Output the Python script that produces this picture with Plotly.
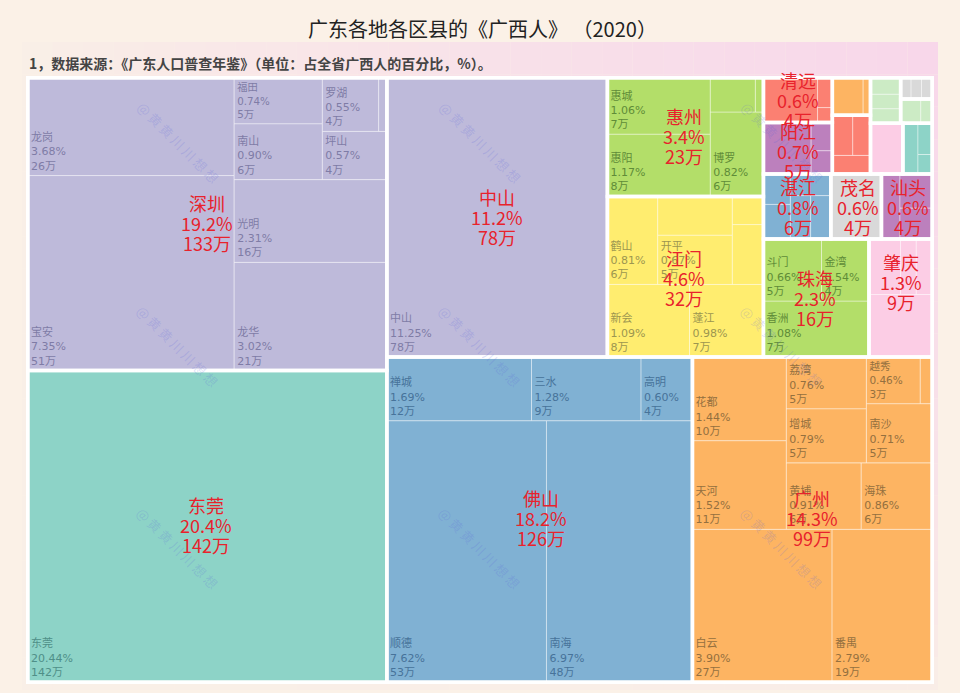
import plotly.graph_objects as go

# 各地级市：名称、占比(%)、人数(万)
city_names = ["深圳", "东莞", "中山", "佛山", "广州", "惠州", "江门", "清远", "阳江", "湛江", "茂名", "汕头", "珠海", "肇庆"]
city_pct = ["19.2%", "20.4%", "11.2%", "18.2%", "14.3%", "3.4%", "4.6%", "0.6%", "0.7%", "0.8%", "0.6%", "0.6%", "2.3%", "1.3%"]
city_wan = ["133万", "142万", "78万", "126万", "99万", "23万", "32万", "4万", "5万", "6万", "4万", "4万", "16万", "9万"]

# 各区县（名称为空的是图上没有标注的小块，数值为估读）
sz_names = ["龙岗", "宝安", "福田", "南山", "罗湖", "", "坪山", "光明", "龙华"]
sz_vals = [3.68, 7.35, 0.74, 0.90, 0.55, 0.08, 0.57, 2.31, 3.02]
sz_wan = [26, 51, 5, 6, 4, 0, 4, 16, 21]
dg_names = ["东莞"]
dg_vals = [20.44]
dg_wan = [142]
zs_names = ["中山"]
zs_vals = [11.25]
zs_wan = [78]
fs_names = ["禅城", "三水", "高明", "顺德", "南海"]
fs_vals = [1.69, 1.28, 0.60, 7.62, 6.97]
fs_wan = [12, 9, 4, 53, 48]
gz_names = ["花都", "天河", "荔湾", "增城", "越秀", "", "南沙", "黄埔", "海珠", "白云", "番禺"]
gz_vals = [1.44, 1.52, 0.76, 0.79, 0.46, 0.10, 0.71, 0.91, 0.86, 3.90, 2.79]
gz_wan = [10, 11, 5, 5, 3, 0, 5, 6, 6, 27, 19]
hz_names = ["惠城", "惠阳", "", "", "博罗"]
hz_vals = [1.06, 1.17, 0.28, 0.05, 0.82]
hz_wan = [7, 8, 0, 0, 6]
jm_names = ["鹤山", "", "开平", "", "", "新会", "蓬江"]
jm_vals = [0.81, 0.53, 0.67, 0.16, 0.34, 1.09, 0.98]
jm_wan = [6, 0, 5, 0, 0, 8, 7]
qy_vals = [0.44, 0.08, 0.04]
yj_vals = [0.45, 0.11, 0.09]
zj_vals = [0.15, 0.17, 0.16, 0.16, 0.16]
mm_vals = [0.6]
st_vals = [0.22, 0.20, 0.18]
zh_names = ["斗门", "金湾", "香洲"]
zh_vals = [0.66, 0.54, 1.08]
zh_wan = [5, 4, 7]
zq_vals = [0.32, 0.16, 0.16, 0.72]
orange_vals = [0.21, 0.05]
red_vals = [0.15, 0.13, 0.13]
green1_vals = [0.09, 0.08, 0.08]
gray_vals = [0.04, 0.04, 0.04]
green2_vals = [0.09, 0.05]
pink_vals = [0.30]
teal_vals = [0.14, 0.08, 0.05]

blank3 = ["", "", ""]

colors = dict(
    purple=("#bebada", "#7f7ca6"), teal=("#8dd3c7", "#4f8f88"), blue=("#80b1d3", "#47739a"),
    orange=("#fdb462", "#94703f"), green=("#b3de69", "#5f8c38"), yellow=("#ffed6f", "#9c9650"),
    red=("#fb8072", "#a05048"), violet=("#bc80bd", "#7a507a"), gray=("#d9d9d9", "#888888"),
    pink=("#fccde5", "#a08090"), mint=("#ccebc5", "#7f9f7a"),
)

# 每个区域：(名称, 数值, 万, 切分结构, 配色)，切分结构里的数字是下标
regions = {
    "深圳": (sz_names, sz_vals, sz_wan, ("h", [("v", [0, 1]), ("v", [("h", [("v", [2, 3]), ("v", [("h", [4, 5]), 6])]), ("v", [7, 8])])]), "purple"),
    "东莞": (dg_names, dg_vals, dg_wan, ("v", [0]), "teal"),
    "中山": (zs_names, zs_vals, zs_wan, ("v", [0]), "purple"),
    "佛山": (fs_names, fs_vals, fs_wan, ("v", [("h", [0, 1, 2]), ("h", [3, 4])]), "blue"),
    "广州": (gz_names, gz_vals, gz_wan, ("v", [("h", [("v", [0, 1]), ("v", [("h", [("v", [2, 3]), ("v", [("h", [4, 5]), 6])]), ("h", [7, 8])])]), ("h", [9, 10])]), "orange"),
    "惠州": (hz_names, hz_vals, hz_wan, ("h", [("v", [0, 1]), ("v", [("h", [2, 3]), 4])]), "green"),
    "江门": (jm_names, jm_vals, jm_wan, ("v", [("h", [0, ("v", [1, 2]), ("v", [3, 4])]), ("h", [5, 6])]), "yellow"),
    "清远": (blank3, qy_vals, None, ("h", [0, ("v", [1, 2])]), "red"),
    "阳江": (blank3, yj_vals, None, ("h", [0, ("v", [1, 2])]), "violet"),
    "湛江": ([""] * 5, zj_vals, None, ("h", [("v", [0, 1]), ("v", [2, ("h", [3, 4])])]), "blue"),
    "茂名": ([""], mm_vals, None, ("v", [0]), "gray"),
    "汕头": (blank3, st_vals, None, ("h", [0, ("v", [1, 2])]), "violet"),
    "珠海": (zh_names, zh_vals, zh_wan, ("v", [("h", [0, 1]), 2]), "green"),
    "肇庆": ([""] * 4, zq_vals, None, ("v", [("h", [0, 1, 2]), 3]), "pink"),
    "橙": (["", ""], orange_vals, None, ("h", [0, 1]), "orange"),
    "红": (blank3, red_vals, None, ("v", [("h", [0, 1]), 2]), "red"),
    "绿1": (blank3, green1_vals, None, ("v", [0, 1, 2]), "mint"),
    "灰": (blank3, gray_vals, None, ("h", [0, 1, 2]), "gray"),
    "绿2": (["", ""], green2_vals, None, ("h", [0, 1]), "mint"),
    "粉": ([""], pink_vals, None, ("v", [0]), "pink"),
    "青": (blank3, teal_vals, None, ("h", [0, ("v", [1, 2])]), "teal"),
}

# 城市之间的摆放结构
city_layout = ("h", [
    ("v", ["深圳", "东莞"]),
    ("v", [
        ("h", ["中山",
               ("v", ["惠州", "江门"]),
               ("v", [
                   ("v", [
                       ("h", [("v", ["清远", "阳江"]), ("v", ["橙", "红"]),
                              ("v", [("h", ["绿1", ("v", ["灰", "绿2"])]), ("h", ["粉", "青"])])]),
                       ("h", ["湛江", "茂名", "汕头"]),
                   ]),
                   ("h", ["珠海", "肇庆"]),
               ])]),
        ("h", ["佛山", "广州"]),
    ]),
])

blank = "rgba(0,0,0,0)"


def build(only_cities):
    ids, parents, labels, vals, texts, fills, lines, widths, fonts = [], [], [], [], [], [], [], [], []
    counter = [0]

    def add(parent, label, val, text, fill, line, width, font):
        counter[0] += 1
        node_id = "n%d" % counter[0]
        ids.append(node_id)
        parents.append(parent)
        labels.append(label)
        vals.append(val)
        texts.append(text)
        fills.append(fill)
        lines.append(line)
        widths.append(width)
        fonts.append(font)
        return node_id

    def walk(node, parent, depth, city):
        if isinstance(node, tuple):
            direction, children = node
            want = 0 if direction == "h" else 1
            # slice-dice 按层交替方向，方向不对就多包一层
            if depth % 2 != want:
                parent = add(parent, "", 0, "", blank, blank, 0, "#000")
                depth += 1
            me = add(parent, "", 0, "", blank, blank, 0, "#000")
            for c in children:
                walk(c, me, depth + 1, city)
        elif isinstance(node, str):
            names, values, wan, tiles, color = regions[node]
            if only_cities:
                add(parent, node, sum(values), "", blank, "#ffffff", 3.5, "#000")
            else:
                walk(tiles, parent, depth, node)
        else:
            names, values, wan, tiles, color = regions[city]
            fill, ink = colors[color]
            text = ""
            if names[node]:
                text = "%s<br>%.2f%%<br>%d万" % (names[node], values[node], wan[node])
            add(parent, names[node] or "块", values[node], text, fill, "rgba(255,255,255,0.4)", 1, ink)

    root = add("", "", 0, "", blank, blank, 0, "#000")
    walk(city_layout, root, 1, None)
    return ids, parents, labels, vals, texts, fills, lines, widths, fonts


W, H = 960, 693
domain = dict(x=[28 / W, 932 / W], y=[1 - 682 / H, 1 - 78 / H])


def treemap(only_cities):
    ids, parents, labels, vals, texts, fills, lines, widths, fonts = build(only_cities)
    return go.Treemap(
        ids=ids, parents=parents, labels=labels, values=vals, text=texts,
        branchvalues="remainder", sort=False, textinfo="text", textposition="bottom left",
        tiling=dict(packing="slice-dice", pad=0), pathbar=dict(visible=False),
        marker=dict(colors=fills, line=dict(color=lines, width=widths),
                    pad=dict(t=0, l=0, r=0, b=0), depthfade=False),
        domain=domain, hoverinfo="skip",
        textfont=dict(family="DejaVu Sans, Noto Sans CJK SC", size=11, color=fonts),
    )


fig = go.Figure([treemap(False), treemap(True)])

# 背景面板的渐变，用小方块拼
shapes = []
panel = (22, 42, 938, 690)
nx, ny = 30, 20
for i in range(nx):
    for j in range(ny):
        t = ((i + 0.5) / nx) ** 0.8 * (1 - (j + 0.5) / ny) ** 0.6
        r, g, b = 250 - t * 2, 240 - t * 25, 231 + t * 4
        shapes.append(dict(
            type="rect", xref="paper", yref="paper", layer="below", line_width=0,
            x0=(panel[0] + i * (panel[2] - panel[0]) / nx) / W,
            x1=(panel[0] + (i + 1) * (panel[2] - panel[0]) / nx) / W,
            y0=1 - (panel[1] + j * (panel[3] - panel[1]) / ny) / H,
            y1=1 - (panel[1] + (j + 1) * (panel[3] - panel[1]) / ny) / H,
            fillcolor="rgb(%d,%d,%d)" % (r, g, b),
        ))
shapes.append(dict(type="rect", xref="paper", yref="paper", layer="below", line_width=0,
                   x0=26 / W, x1=934 / W, y0=1 - 684 / H, y1=1 - 76 / H, fillcolor="#ffffff"))

annotations = []


def put(x, y, text, size, color, xanchor="center", **kw):
    annotations.append(dict(xref="paper", yref="paper", x=x / W, y=1 - y / H, text=text, showarrow=False,
                            xanchor=xanchor, yanchor="middle",
                            font=dict(family="Noto Sans CJK SC", size=size, color=color), **kw))


put(306, 29, "广东各地各区县的《广西人》 （2020）", 20, "#222222", xanchor="left")
put(27, 63, "<b>1，数据来源：《广东人口普查年鉴》（单位：占全省广西人的百分比，%）。</b>", 14, "#444444", xanchor="left")

# 水印
for wy in (143, 346, 548):
    for wx in (178, 480, 782):
        put(wx, wy, "@ 黄 黄 川 川 想 想", 13, "rgba(90,100,220,0.2)", textangle=45)

# 城市的红字标签
label_xy = [(207, 223), (206, 525), (497, 217), (541, 518), (812, 518), (684, 136), (684, 278),
            (798, 100), (798, 151), (798, 207), (858, 207), (908, 207), (815, 298), (901, 282)]
for (lx, ly), name, pct, wan in zip(label_xy, city_names, city_pct, city_wan):
    for k, line in enumerate((name, pct, wan)):
        put(lx, ly + (k - 1) * 20, line, 18, "#e8222c")

fig.update_layout(
    width=W, height=H, margin=dict(l=0, r=0, t=0, b=0), paper_bgcolor="#fbf1e7",
    shapes=shapes, annotations=annotations, showlegend=False,
)
fig.write_html("out.html", config=dict(displayModeBar=False), post_script="document.body.style.margin='0';")
